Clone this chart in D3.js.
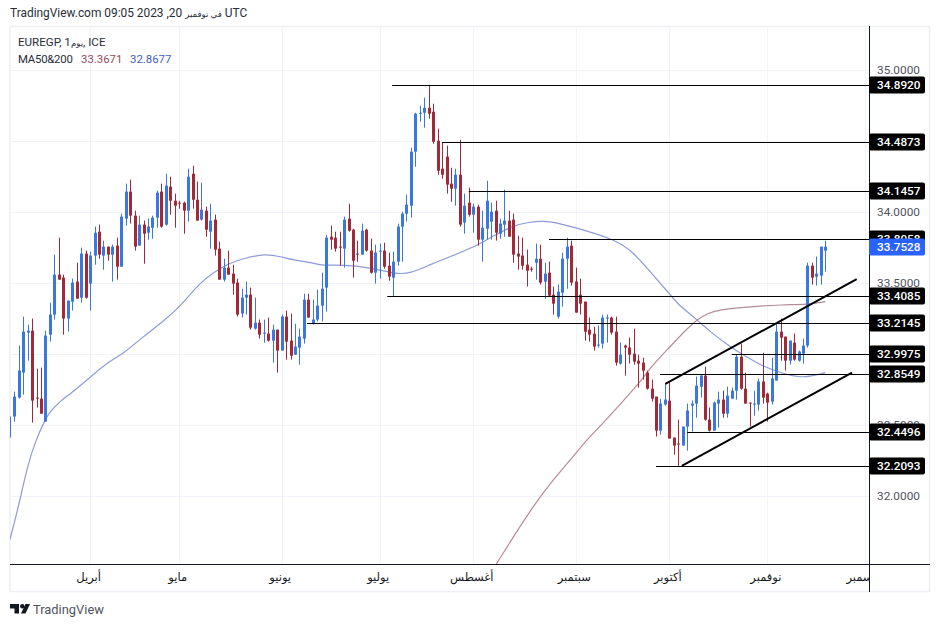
<!DOCTYPE html>
<html>
<head>
<meta charset="utf-8">
<script src="https://cdn.jsdelivr.net/npm/d3@7"></script>
<style>
html, body { margin: 0; padding: 0; background: #fff; }
svg { display: block; }
text { font-family: Roboto, "DejaVu Sans", sans-serif; }
</style>
</head>
<body>
<svg id="chart" width="939" height="627"></svg>
<script>
// daily candles, first value is the partial candle cut by the left edge
opens = [32.5,
32.559,32.692,32.868,33.149,33.163,32.692,32.685,32.523,33.135,33.276,33.557,33.536,33.248,33.367,33.508,33.395,33.705,33.494,33.691,33.859,
33.691,33.754,33.698,33.761,33.613,33.951,34.141,33.972,33.761,33.909,33.852,33.887,33.958,34.141,33.909,34.176,34.077,34.063,34.063,34.007,
34.267,34.084,33.944,34.007,33.859,33.944,33.740,33.522,33.606,33.564,33.501,33.283,33.395,33.416,33.177,33.219,33.142,33.142,33.093,33.170,
33.023,33.262,33.093,32.994,33.044,33.107,33.381,33.212,33.241,33.339,33.466,33.824,33.817,33.754,33.740,33.951,33.873,33.705,33.698,33.873,
33.726,33.571,33.719,33.726,33.620,33.536,33.648,33.895,33.986,34.042,34.422,34.689,34.696,34.731,34.703,34.499,34.302,34.387,34.197,34.162,
34.260,33.923,34.063,33.979,34.035,33.803,33.880,33.930,34.007,33.845,33.909,33.937,33.944,33.705,33.691,33.627,33.599,33.641,33.669,33.508,
33.571,33.416,33.262,33.430,33.669,33.761,33.508,33.416,33.367,33.170,33.142,33.058,33.072,33.248,33.255,33.156,32.931,33.058,33.044,33.001,
32.952,32.938,32.868,32.755,32.699,32.460,32.643,32.671,32.411,32.369,32.355,32.488,32.636,32.650,32.769,32.847,32.537,32.460,32.650,32.678,
32.579,32.685,32.741,32.980,32.755,32.657,32.643,32.643,32.805,32.720,32.664,32.812,33.156,33.121,32.952,33.079,32.952,33.001,33.058,33.620,
33.543,33.550,33.726];
highs = [32.559,
32.734,33.058,33.262,33.205,33.248,32.896,32.903,33.163,33.360,33.698,33.817,33.557,33.374,33.529,33.641,33.747,33.726,33.719,33.895,33.909,
33.796,33.754,33.768,33.817,33.986,34.197,34.225,34.007,33.972,33.937,33.951,33.972,34.148,34.197,34.267,34.246,34.127,34.077,34.070,34.302,
34.323,34.211,34.204,34.035,34.056,33.979,33.789,33.669,33.726,33.627,33.529,33.458,33.508,33.466,33.395,33.241,33.241,33.255,33.205,33.170,
33.276,33.304,33.283,33.212,33.177,33.423,33.423,33.381,33.451,33.571,33.838,33.902,33.859,33.859,33.965,34.056,33.880,33.796,33.916,33.880,
33.810,33.768,33.775,33.782,33.712,33.719,33.916,34.000,34.120,34.450,34.696,34.745,34.802,34.892,34.759,34.584,34.487,34.464,34.309,34.302,
34.506,34.127,34.169,34.056,34.049,34.007,34.218,34.063,34.077,33.951,34.155,34.007,33.986,33.831,33.817,33.733,33.613,33.775,33.768,33.641,
33.648,33.473,33.487,33.712,33.817,33.796,33.606,33.529,33.367,33.255,33.191,33.198,33.276,33.276,33.262,33.262,33.079,33.065,33.114,33.177,
32.994,32.973,32.882,32.819,32.699,32.685,32.791,32.798,32.411,32.537,32.488,32.650,32.671,32.840,32.854,32.910,32.622,32.664,32.734,32.741,
32.769,32.762,32.994,33.072,32.868,32.657,32.741,32.826,33.008,32.727,32.973,33.219,33.248,33.121,33.093,33.142,33.023,33.107,33.641,33.641,
33.684,33.754,33.796];
lows = [32.411,
32.523,32.685,32.713,32.952,32.516,32.622,32.579,32.523,33.086,33.241,33.522,33.135,33.156,33.304,33.388,33.360,33.388,33.304,33.627,33.669,
33.592,33.655,33.508,33.522,33.613,33.902,33.916,33.726,33.761,33.634,33.803,33.810,33.887,33.887,33.902,33.979,33.887,34.021,33.845,33.930,
34.021,33.937,33.937,33.824,33.740,33.691,33.522,33.508,33.557,33.416,33.262,33.255,33.276,33.170,33.170,33.107,33.079,33.086,32.938,32.868,
33.023,32.959,32.959,32.994,32.924,33.072,33.255,33.205,33.227,33.227,33.297,33.733,33.719,33.620,33.606,33.859,33.536,33.648,33.698,33.719,
33.564,33.494,33.529,33.599,33.515,33.402,33.620,33.648,33.930,33.958,34.316,34.633,34.591,34.654,34.478,34.260,34.232,34.127,34.070,34.042,
33.895,33.845,33.965,33.852,33.761,33.648,33.803,33.803,33.796,33.810,33.824,33.824,33.641,33.592,33.592,33.473,33.578,33.522,33.487,33.388,
33.402,33.276,33.248,33.332,33.458,33.480,33.290,33.276,33.093,33.086,33.023,33.044,33.037,33.079,33.135,32.917,32.924,32.847,32.931,32.924,
32.762,32.819,32.748,32.664,32.418,32.432,32.636,32.404,32.291,32.209,32.355,32.319,32.453,32.551,32.692,32.530,32.453,32.460,32.481,32.551,
32.551,32.685,32.678,32.748,32.650,32.488,32.565,32.601,32.650,32.523,32.643,32.812,32.952,32.882,32.924,32.952,32.945,32.931,33.044,33.487,
33.480,33.487,33.578];
closes = [32.5,
32.699,32.882,33.156,33.163,32.671,32.685,32.579,33.128,33.276,33.557,33.522,33.248,33.374,33.501,33.388,33.705,33.395,33.691,33.852,33.698,
33.754,33.698,33.754,33.613,33.965,34.141,33.972,33.754,33.909,33.845,33.895,33.958,34.134,33.895,34.183,34.077,34.042,34.056,34.007,34.246,
34.084,33.937,34.014,33.873,33.937,33.733,33.522,33.606,33.557,33.494,33.276,33.395,33.416,33.184,33.219,33.135,33.149,33.093,33.170,33.023,
33.262,33.086,32.987,33.051,33.121,33.381,33.255,33.241,33.339,33.458,33.817,33.803,33.740,33.747,33.944,33.866,33.655,33.698,33.866,33.726,
33.571,33.712,33.726,33.613,33.543,33.648,33.895,33.986,34.049,34.422,34.689,34.696,34.731,34.689,34.492,34.288,34.260,34.190,34.162,34.260,
33.909,34.042,33.979,34.035,33.803,33.887,34.077,34.000,33.852,33.916,33.937,33.824,33.698,33.684,33.620,33.585,33.592,33.669,33.501,33.564,
33.409,33.353,33.437,33.669,33.754,33.501,33.290,33.353,33.156,33.135,33.051,33.065,33.255,33.255,33.149,32.938,32.994,33.044,32.994,32.945,
32.931,32.882,32.755,32.685,32.460,32.650,32.678,32.404,32.355,32.362,32.488,32.601,32.650,32.776,32.847,32.537,32.460,32.657,32.678,32.579,
32.706,32.741,32.980,32.755,32.650,32.650,32.650,32.805,32.692,32.657,32.826,33.156,33.114,32.952,33.093,32.959,33.016,33.058,33.620,33.536,
33.564,33.754,33.7528];

// moving averages, sampled along the curves
ma50Idx = [-1,0.2,1.7,2.9,4.6,6.9,8,10.7,11.8,17,20.8,24.2,28.9,33.4,37.2,41.7,44.6,48.4,51.3,56.3,59.6,63.4,67,69,73.8,79.8,83.6,85.9,88.8,93.3,98.4,102.9,106.8,111.9,115,118.7,122.5,127.6,134.8,138.8,142.7,147.2,149,153.2,156.1,160.6,163.5,168,172.5,177,182];
ma50Val = [31.693,31.834,32.031,32.2,32.376,32.537,32.594,32.678,32.699,32.833,32.938,32.994,33.121,33.227,33.332,33.501,33.571,33.641,33.669,33.705,33.684,33.655,33.641,33.62,33.627,33.606,33.578,33.564,33.564,33.627,33.691,33.747,33.817,33.902,33.923,33.937,33.916,33.873,33.803,33.719,33.578,33.416,33.346,33.241,33.156,33.051,32.994,32.91,32.861,32.826,32.8677];
ma200Idx = [108.1,111.9,116.4,120.9,125.8,128.5,131.4,135.9,140.4,142.7,147.2,150.1,153.2,155.5,157.9,165.1,172.5,177.9,182];
ma200Val = [31.518,31.708,31.926,32.115,32.291,32.397,32.488,32.643,32.798,32.903,33.051,33.149,33.241,33.283,33.311,33.332,33.346,33.346,33.3671];

// drawn horizontal levels and where each one starts
levelVal = [34.8920,34.4873,34.1457,33.8058,33.4085,33.2145,32.9975,32.8549,32.4496,32.2093];
levelFrom = [84.8,96,102,120,83.7,65.7,161,144.9,151,144];

// channel lines [index, price]
channelTop = [[146.1,32.788],[189.05,33.525]];
channelBottom = [[149.8,32.212],[188,32.868]];

priceTicks = [35,34.5,34,33.5,33,32.5,32];
monthTicks = [17,37,60,82,103,126,147,169,191];
monthLabels = ["أبريل","مايو","يونيو","يوليو","أغسطس","سبتمبر","أكتوبر","نوفمبر","ديسمبر"];
lastPrice = 33.7528;

blue = "#3a77de";
red = "#a22a38";
gridColor = "#f0f3fa";
axisColor = "#131722";

var svg = d3.select("#chart");
var x = d3.scaleLinear().domain([0, 182]).range([14.3, 825.3]);
var y = d3.scaleLinear().domain([35, 32]).range([69.5, 496]);
function crisp(v) { return Math.round(v) + 0.5; }

var defs = svg.append("defs");
defs.append("clipPath").attr("id", "plot").append("rect")
    .attr("x", 10).attr("y", 27).attr("width", 859).attr("height", 537);
defs.append("clipPath").attr("id", "timeClip").append("rect")
    .attr("x", 10).attr("y", 565).attr("width", 859).attr("height", 26);

// panel frame
svg.append("rect").attr("x", 10).attr("y", 26.5).attr("width", 919.5).attr("height", 565)
    .attr("fill", "none").attr("stroke", "#eef0f4").attr("stroke-width", 1.5);

// header, the Arabic glyphs come out much wider than in the picture so they get a smaller size
var head = svg.append("text").attr("x", 10).attr("y", 17)
    .attr("font-size", 11.9).attr("fill", "#2a2e39");
head.append("tspan").text("TradingView.com 09:05 2023 ,20 ");
head.append("tspan").attr("font-size", 8.6).text("في نوفمبر");
head.append("tspan").text(" UTC");

// grid
var plot = svg.append("g").attr("clip-path", "url(#plot)");
plot.selectAll(".hgrid").data(priceTicks).join("line")
    .attr("x1", 10).attr("x2", 869)
    .attr("y1", d => crisp(y(d))).attr("y2", d => crisp(y(d)))
    .attr("stroke", gridColor);
plot.selectAll(".vgrid").data(monthTicks).join("line")
    .attr("x1", d => crisp(x(d))).attr("x2", d => crisp(x(d)))
    .attr("y1", 27).attr("y2", 564)
    .attr("stroke", gridColor);

// moving averages
var maLine = d3.line().x(d => x(d[0])).y(d => y(d[1])).curve(d3.curveBasis);
plot.append("path").attr("d", maLine(d3.zip(ma50Idx, ma50Val)))
    .attr("fill", "none").attr("stroke", "#8e9bd8").attr("stroke-width", 1.2);
plot.append("path").attr("d", maLine(d3.zip(ma200Idx, ma200Val)))
    .attr("fill", "none").attr("stroke", "#b58b97").attr("stroke-width", 1.2);

// candles
var candles = d3.range(opens.length).map(i => ({
    i: i - 1, o: opens[i], h: highs[i], l: lows[i], c: closes[i]
}));
function candleColor(d) { return d.c >= d.o ? blue : red; }
var candle = plot.selectAll(".candle").data(candles).join("g");
candle.append("line")
    .attr("x1", d => crisp(x(d.i))).attr("x2", d => crisp(x(d.i)))
    .attr("y1", d => y(d.h)).attr("y2", d => y(d.l))
    .attr("stroke", candleColor);
candle.filter(d => d.i >= 0).append("rect")
    .attr("x", d => Math.round(x(d.i)) - 1).attr("width", 3)
    .attr("y", d => y(Math.max(d.o, d.c)))
    .attr("height", d => Math.max(1, Math.abs(y(d.o) - y(d.c))))
    .attr("fill", candleColor);

// levels
plot.selectAll(".level").data(levelVal).join("line")
    .attr("x1", (d, i) => x(levelFrom[i])).attr("x2", 869)
    .attr("y1", d => crisp(y(d))).attr("y2", d => crisp(y(d)))
    .attr("stroke", "#000").attr("stroke-width", 1);

// channel
var chLine = d3.line().x(d => x(d[0])).y(d => y(d[1]));
[channelTop, channelBottom].forEach(function (c) {
    plot.append("path").attr("d", chLine(c))
        .attr("stroke", "#000").attr("stroke-width", 2).attr("fill", "none");
});

// axes
var priceAxis = d3.axisRight(y).tickValues(priceTicks).tickSize(0).tickPadding(8)
    .tickFormat(d3.format(".4f"));
var gp = svg.append("g").attr("transform", "translate(869,0)").call(priceAxis);
gp.select(".domain").remove();
gp.selectAll("text").attr("font-size", 11.8).attr("fill", "#50535e")
    .style("font-family", "Roboto, sans-serif");

var timeAxis = d3.axisBottom(x).tickValues(monthTicks).tickSize(0).tickPadding(9)
    .tickFormat((d, i) => monthLabels[i]);
var gt = svg.append("g").attr("clip-path", "url(#timeClip)")
    .append("g").attr("transform", "translate(0,564)").call(timeAxis);
gt.select(".domain").remove();
gt.selectAll("text").attr("font-size", 11.5).attr("fill", "#131722").attr("dx", -2)
    .style("font-family", "'DejaVu Sans', sans-serif");

svg.append("line").attr("x1", 10).attr("x2", 930).attr("y1", 564.5).attr("y2", 564.5)
    .attr("stroke", axisColor);
svg.append("line").attr("x1", 869.5).attr("x2", 869.5).attr("y1", 26).attr("y2", 592)
    .attr("stroke", axisColor);

// price labels on the axis
var labels = levelVal.map(v => ({ v: v, fill: "#000" })).concat([{ v: lastPrice, fill: "#2962ff" }]);
var lab = svg.selectAll(".lab").data(labels).join("g")
    .attr("transform", d => "translate(869," + Math.round(y(d.v)) + ")");
lab.append("rect").attr("x", 0).attr("y", -8.5).attr("width", 56).attr("height", 17)
    .attr("rx", 2).attr("fill", d => d.fill);
lab.append("text").attr("x", 8).attr("y", 4.3).attr("font-size", 11.8).attr("font-weight", 500)
    .attr("fill", "#fff").text(d => d3.format(".4f")(d.v));

// legend
var sym = svg.append("text").attr("x", 18).attr("y", 46).attr("font-size", 11.6).attr("fill", "#2a2e39");
sym.append("tspan").text("EUREGP, 1");
sym.append("tspan").attr("font-size", 8.6).text("يوم");
sym.append("tspan").text(", ICE");
var leg = svg.append("text").attr("x", 18).attr("y", 63).attr("font-size", 11.4).attr("fill", "#2a2e39");
leg.append("tspan").attr("letter-spacing", -0.25).text("MA50&200");
leg.append("tspan").attr("x", 81).attr("fill", "#9c4a55").text("33.3671");
leg.append("tspan").attr("x", 130).attr("fill", "#3f5fc0").text("32.8677");

// logo
var logo = svg.append("g").attr("transform", "translate(10,604)").attr("fill", "#131722");
logo.append("path").attr("d", "M0 0H9V9.5H4.5V4.5H0Z");
logo.append("circle").attr("cx", 12.3).attr("cy", 2.2).attr("r", 2.2);
logo.append("path").attr("d", "M15.5 0H20L15.5 9.5H11Z");
svg.append("text").attr("x", 33).attr("y", 614).attr("font-size", 12.9).attr("fill", "#50535e")
    .text("TradingView");
</script>
</body>
</html>
